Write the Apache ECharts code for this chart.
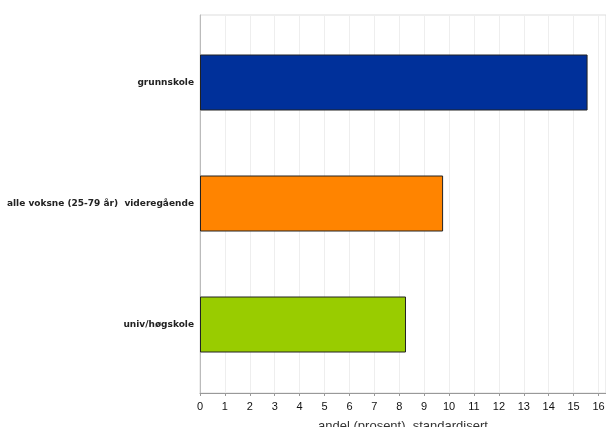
<!DOCTYPE html>
<html>
<head>
    <meta charset="UTF-8">
    <title>andel (prosent), standardisert</title>
    <style>
        html, body { margin: 0; padding: 0; background: #fff; }
        #main { width: 606px; height: 427px; }
    </style>
</head>
<body>
<div id="main"></div>
<script src="https://cdn.jsdelivr.net/npm/echarts@6/dist/echarts.min.js"></script>
<script>
    // data
    var categories = ['grunnskole', 'alle voksne (25-79 år)  videregående', 'univ/høgskole'];
    var values = [15.56, 9.76, 8.27];
    var colors = ['#00309a', '#ff8400', '#99cc00'];
    var xTicks = [0, 1, 2, 3, 4, 5, 6, 7, 8, 9, 10, 11, 12, 13, 14, 15, 16];
    var xMax = 16.3;

    var myChart = echarts.init(document.getElementById('main'));

    var barData = [];
    for (var i = 0; i < values.length; i++) {
        barData.push({
            value: values[i],
            itemStyle: { color: colors[i], borderColor: '#222', borderWidth: 1 }
        });
    }

    var option = {
        animation: false,
        // grid 0: frame, x axis and grid lines; grid 1: bars (a bit inset vertically)
        grid: [
            { left: 200, right: 0, top: 15, bottom: 34, outerBoundsMode: 'none',
              show: true, borderColor: '#dddddd', borderWidth: 1 },
            { left: 200, right: 0, top: 22, bottom: 42, outerBoundsMode: 'none' }
        ],
        xAxis: [{
            gridIndex: 0,
            type: 'value',
            min: 0,
            max: xMax,
            interval: 1,
            name: 'andel (prosent), standardisert',
            nameLocation: 'middle',
            nameGap: 27,
            nameTextStyle: { fontFamily: 'Liberation Sans', fontSize: 13, color: '#333' },
            axisLine: { show: true, lineStyle: { color: '#999' } },
            axisTick: { show: true, length: 3, lineStyle: { color: '#999' } },
            axisLabel: {
                fontFamily: 'Liberation Sans', fontSize: 11, color: '#111', margin: 8,
                formatter: function (v) { return xTicks.indexOf(v) >= 0 ? String(v) : ''; }
            },
            splitLine: { show: true, lineStyle: { color: '#eeeeee' } }
        }, {
            gridIndex: 1,
            type: 'value',
            min: 0,
            max: xMax,
            show: false
        }],
        yAxis: [{
            gridIndex: 0,
            type: 'value',
            min: 0,
            max: 1,
            axisLine: { show: true, lineStyle: { color: '#bbbbbb' } },
            axisTick: { show: false },
            axisLabel: { show: false },
            splitLine: { show: false }
        }, {
            gridIndex: 1,
            type: 'category',
            inverse: true,
            data: categories,
            axisLine: { show: false },
            axisTick: { show: false },
            axisLabel: { fontFamily: 'DejaVu Sans', fontSize: 9, fontWeight: 'bold', color: '#222', margin: 6 }
        }],
        series: [{
            type: 'bar',
            xAxisIndex: 1,
            yAxisIndex: 1,
            barWidth: 56,
            data: barData
        }]
    };

    myChart.setOption(option);
</script>
</body>
</html>
